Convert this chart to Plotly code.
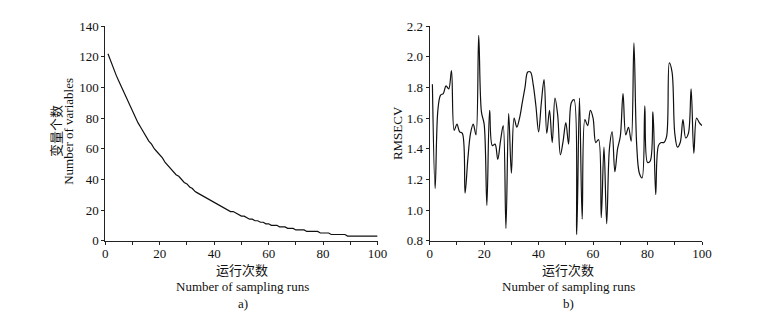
import plotly.graph_objects as go

runs = list(range(1, 101))

num_variables = [
    122, 117, 112, 108, 104, 100, 96, 92, 88, 84,
    81, 77, 74, 71, 68, 65, 63, 60, 58, 56,
    54, 51, 49, 47, 45, 43, 42, 40, 38, 37,
    35, 34, 32, 31, 30, 29, 28, 27, 26, 25,
    24, 23, 22, 21, 20, 19, 19, 18, 17, 16,
    16, 15, 14, 14, 13, 13, 12, 12, 11, 11,
    10, 10, 10, 9, 9, 9, 8, 8, 8, 7,
    7, 7, 7, 6, 6, 6, 6, 6, 5, 5,
    5, 5, 4, 4, 4, 4, 4, 4, 3, 3,
    3, 3, 3, 3, 3, 3, 3, 3, 3, 3,
]

rmsecv = [
    1.82, 1.14, 1.65, 1.75, 1.76, 1.81, 1.79, 1.91, 1.52, 1.56,
    1.51, 1.50, 1.11, 1.33, 1.50, 1.56, 1.49, 2.14, 1.64, 1.56,
    1.03, 1.65, 1.42, 1.43, 1.33, 1.45, 1.55, 0.88, 1.63, 1.24,
    1.60, 1.54, 1.60, 1.70, 1.80, 1.90, 1.90, 1.82, 1.68, 1.51,
    1.70, 1.85, 1.50, 1.65, 1.44, 1.73, 1.62, 1.36, 1.45, 1.57,
    1.43, 1.70, 1.72, 0.84, 1.73, 0.94, 1.59, 1.55, 1.65, 1.60,
    1.44, 1.46, 0.95, 1.41, 0.91, 1.40, 1.51, 1.25, 1.40, 1.48,
    1.76, 1.49, 1.54, 1.45, 2.09, 1.43, 1.24, 1.21, 1.68, 1.31,
    1.32, 1.64, 1.10, 1.42, 1.44, 1.44, 1.48, 1.96, 1.90, 1.50,
    1.41, 1.44, 1.59, 1.47, 1.50, 1.79, 1.37, 1.60, 1.57, 1.55,
]

x_tickvals = [0, 10, 20, 30, 40, 50, 60, 70, 80, 90, 100]
x_ticktext = ["0", "", "20", "", "40", "", "60", "", "80", "", "100"]
y1_tickvals = [0, 20, 40, 60, 80, 100, 120, 140]
y2_tickvals = [0.8, 1.0, 1.2, 1.4, 1.6, 1.8, 2.0, 2.2]
y2_ticktext = ["0.8", "1.0", "1.2", "1.4", "1.6", "1.8", "2.0", "2.2"]

W, H = 771, 324
SERIF = "Liberation Serif, Times New Roman, serif"
CJK = "Noto Sans CJK SC"


def px(x):
    return x / W


def py(y):
    return 1 - y / H


fig = go.Figure()
fig.add_trace(go.Scatter(x=runs, y=num_variables, mode="lines",
                         line=dict(color="#111", width=1.2),
                         xaxis="x", yaxis="y", showlegend=False))
fig.add_trace(go.Scatter(x=runs, y=rmsecv, mode="lines",
                         line=dict(color="#111", width=1.2, shape="spline", smoothing=1.0),
                         xaxis="x2", yaxis="y2", showlegend=False))

axis_common = dict(showline=True, linecolor="#222", linewidth=1, ticks="outside",
                   ticklen=3, tickcolor="#222", showgrid=False, zeroline=False,
                   mirror=False, tickfont=dict(family=SERIF, size=13, color="#111"))

ydom = [py(245), py(20)]
fig.update_layout(
    width=W, height=H,
    margin=dict(l=0, r=0, t=0, b=0),
    paper_bgcolor="white", plot_bgcolor="white",
    xaxis=dict(domain=[px(104), px(381)], range=[0, 100], tickvals=x_tickvals,
               ticktext=x_ticktext, anchor="y", ticklabelstandoff=-2, **axis_common),
    yaxis=dict(domain=ydom, range=[0, 140], tickvals=y1_tickvals, anchor="x",
               **axis_common),
    xaxis2=dict(domain=[px(434), px(711)], range=[0, 100], tickvals=x_tickvals,
                ticktext=x_ticktext, anchor="y2", ticklabelstandoff=-2, **axis_common),
    yaxis2=dict(domain=ydom, range=[0.8, 2.2], tickvals=y2_tickvals,
                ticktext=y2_ticktext, anchor="x2", **axis_common),
)

ann = []


def add_text(text, x, y, family, size=13, angle=0):
    ann.append(dict(text=text, x=px(x), y=py(y), xref="paper", yref="paper",
                    showarrow=False, xanchor="center", yanchor="middle",
                    textangle=angle, borderpad=0,
                    font=dict(family=family, size=size, color="#111")))


# left panel
add_text("运行次数", 243, 275, CJK)
add_text("Number of sampling runs", 244, 293, SERIF)
add_text("a)", 244, 311, SERIF)
add_text("变量个数", 54, 130, CJK, angle=-90)
add_text("Number of variables", 67, 130, SERIF, angle=-90)
# right panel
add_text("运行次数", 575, 275, CJK)
add_text("Number of sampling runs", 575, 293, SERIF)
add_text("b)", 575, 311, SERIF)
add_text("RMSECV", 402, 132, SERIF, angle=-90)

fig.update_layout(annotations=ann)
fig.write_html("out.html")
